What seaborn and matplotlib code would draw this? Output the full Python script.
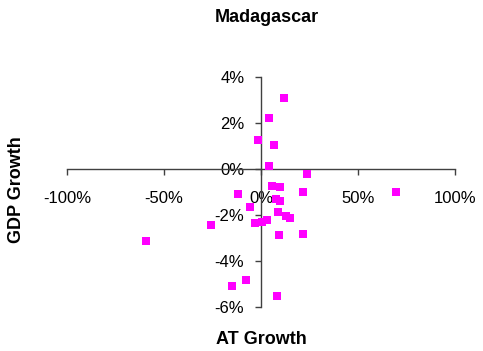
import numpy as np
import pandas as pd
import seaborn as sns
import matplotlib.pyplot as plt
from matplotlib.ticker import PercentFormatter

# values, in percent
at_growth = [11.9, 4.3, -1.5, 6.7, 4.3, 23.6, 5.8, 9.7, 21.5, -11.6,
             69.4, 7.7, 9.7, -5.8, 8.9, 12.8, 15.2, -2.9, 0.3, 3.3,
             -25.6, 9.2, 21.7, -59.1, -7.8, -15.2, 8.4]
gdp_growth = [3.07, 2.23, 1.25, 1.04, 0.13, -0.22, -0.74, -0.78, -1.0, -1.1,
              -1.01, -1.32, -1.39, -1.67, -1.88, -2.04, -2.12, -2.36, -2.29, -2.22,
              -2.45, -2.87, -2.83, -3.12, -4.84, -5.09, -5.54]
x_ticks = [-100, -50, 0, 50, 100]
y_ticks = [-6, -4, -2, 0, 2, 4]

df = pd.DataFrame({"AT Growth": at_growth, "GDP Growth": gdp_growth})

sns.set_style("white")
plt.rcParams['font.family'] = ['Liberation Sans', 'DejaVu Sans']
plt.rcParams['axes.unicode_minus'] = False

fig = plt.figure(figsize=(4.83, 3.51), dpi=100)
ax = fig.add_axes([67 / 483, 44 / 351, 388 / 483, 230 / 351])

sns.scatterplot(data=df, x="AT Growth", y="GDP Growth", marker="s", color="#FF00FF",
                s=34, linewidth=0, ax=ax, zorder=3, clip_on=False)

ax.set_xlim(-100, 100)
ax.set_ylim(-6, 4)
ax.set_xticks(x_ticks)
ax.set_yticks(y_ticks)
ax.xaxis.set_major_formatter(PercentFormatter(decimals=0))
ax.yaxis.set_major_formatter(PercentFormatter(decimals=0))

for side in ["top", "right"]:
    ax.spines[side].set_visible(False)
ax.spines["left"].set_position(("data", 0))
ax.spines["bottom"].set_position(("data", 0))
for side in ["left", "bottom"]:
    ax.spines[side].set_color("#404040")
    ax.spines[side].set_linewidth(1.0)

ax.tick_params(axis="x", bottom=True, direction="out", length=4, width=1, color="#404040",
               labelsize=12, pad=12, labelcolor="black")
ax.tick_params(axis="y", left=True, direction="out", length=4, width=1, color="#404040",
               labelsize=12, pad=8, labelcolor="black")

ax.set_xlabel("")
ax.set_ylabel("")
fig.text(261 / 483, 1 - 339 / 351, "AT Growth", ha="center", va="center",
         fontsize=13, fontweight="bold", color="black")
fig.text(17 / 483, 1 - 190 / 351, "GDP Growth", ha="center", va="center",
         rotation=90, fontsize=13, fontweight="bold", color="black")
fig.text(267 / 483, 1 - 17 / 351, "Madagascar", ha="center", va="center",
         fontsize=13, fontweight="bold", color="black")

fig.savefig("out.png", dpi=100)
